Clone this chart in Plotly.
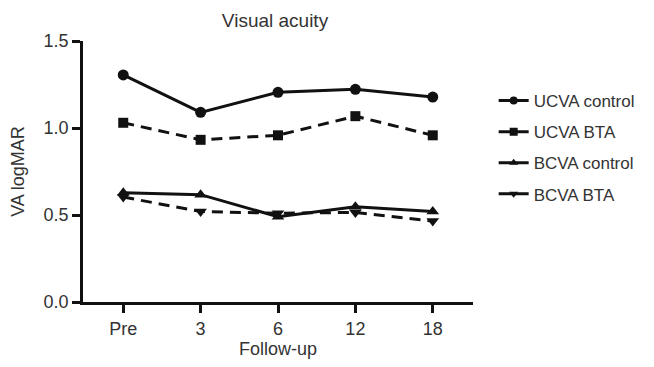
import plotly.graph_objects as go

categories = ["Pre", "3", "6", "12", "18"]
ucva_control = [1.305, 1.09, 1.205, 1.222, 1.178]
ucva_bta = [1.03, 0.932, 0.958, 1.068, 0.958]
bcva_control = [0.628, 0.617, 0.49, 0.548, 0.52]
bcva_bta = [0.603, 0.52, 0.51, 0.515, 0.465]

series = [
    ("UCVA control", ucva_control, "circle", "solid", 11),
    ("UCVA BTA", ucva_bta, "square", "11px,7px", 10),
    ("BCVA control", bcva_control, "triangle-up", "solid", 11),
    ("BCVA BTA", bcva_bta, "triangle-down", "11px,7px", 11),
]

FS = 18
W, H = 638, 351  # page body has an 8px margin; keep within window without scrollbars
x_idx = list(range(len(categories)))
fig = go.Figure()
for i, (name, vals, sym, dash, sz) in enumerate(series):
    fig.add_trace(go.Scatter(
        x=x_idx, y=vals, mode="lines+markers", name=name, showlegend=False,
        line=dict(color="#111111", width=3, dash=dash),
        marker=dict(symbol=sym, size=sz, color="#111111"),
    ))
for i, (name, vals, sym, dash, sz) in enumerate(series):
    fig.add_trace(go.Scatter(
        x=[None], y=[None], mode="lines+markers", name=name, legendgroup=f"g{i}",
        line=dict(color="#111111", width=3, dash="solid"),
        marker=dict(symbol=sym, size=8, color="#111111"),
    ))

fig.update_layout(
    width=W, height=H,
    margin=dict(l=75, r=173, t=33, b=57, autoexpand=False),
    paper_bgcolor="white", plot_bgcolor="white",
    font=dict(family="Liberation Sans, Arial, sans-serif", size=FS, color="#333333"),
    title=dict(text="Visual acuity", x=267 / W, xanchor="center", y=1 - 12 / H, yanchor="middle",
               font=dict(size=19, color="#333333")),
    showlegend=True,
    legend=dict(x=1.053, y=0.839, xanchor="left", yanchor="top", tracegroupgap=6,
                traceorder="grouped", font=dict(size=17, color="#333333"),
                bgcolor="rgba(0,0,0,0)", itemwidth=30),
)
fig.update_xaxes(
    range=[-0.52, 4.52], tickmode="array", tickvals=x_idx, ticktext=categories,
    showline=True, linecolor="#111111", linewidth=2.8, ticks="outside", ticklen=8,
    tickwidth=2.8, tickcolor="#111111", showgrid=False, zeroline=False, automargin=False,
    title=dict(text="Follow-up", standoff=16, font=dict(size=FS, color="#333333")),
)
fig.update_yaxes(
    range=[0, 1.5], tickvals=[0, 0.5, 1.0, 1.5], ticktext=["0.0", "0.5", "1.0", "1.5"],
    showline=True, linecolor="#111111", linewidth=2.8, ticks="outside", ticklen=8,
    tickwidth=2.8, tickcolor="#111111", showgrid=False, zeroline=False, automargin=False,
    title=dict(text="VA logMAR", standoff=22, font=dict(size=FS, color="#333333")),
)
fig.write_html("out.html")
